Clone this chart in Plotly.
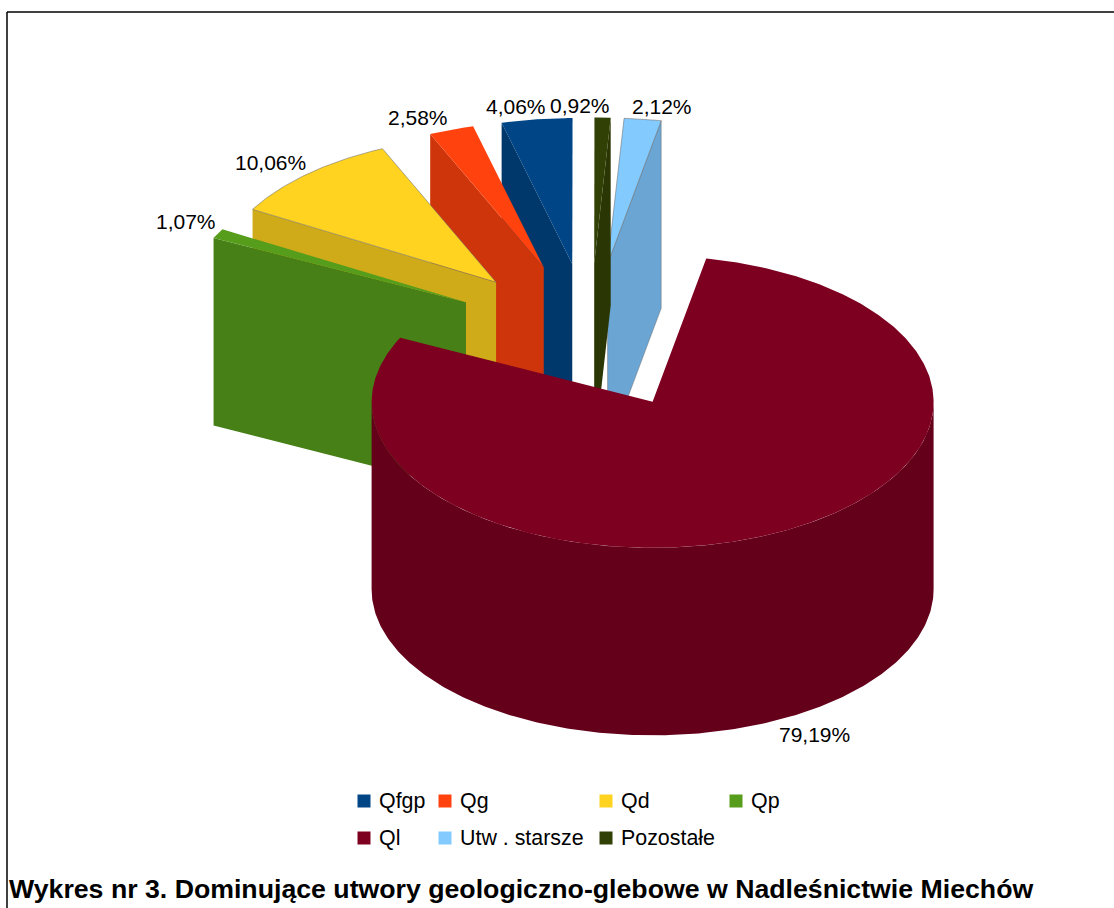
import numpy as np
import plotly.graph_objects as go

categories = ["Qfgp", "Qg", "Qd", "Qp", "Ql", "Utw . starsze", "Pozostałe"]
values = [4.06, 2.58, 10.06, 1.07, 79.19, 2.12, 0.92]
top_colors = ["#004586", "#ff420e", "#ffd320", "#579d1c", "#7e0021", "#83caff", "#314004"]
side_colors = ["#00386c", "#cf350b", "#cfab1a", "#468017", "#65001b", "#6aa5d3", "#2a3604"]
top_edges = [None, None, "rgba(110,110,110,0.7)", None, None, "rgba(110,110,110,0.7)", None]
side_edges = [None, None, None, None, None, "rgba(110,110,110,0.6)", None]

# clockwise order of the slices in the drawing, starting from Ql
clockwise = ["Ql", "Qp", "Qd", "Qg", "Qfgp", "Pozostałe", "Utw . starsze"]
# back-to-front painting order
paint = ["Utw . starsze", "Pozostałe", "Qfgp", "Qg", "Qd", "Qp", "Ql"]

START = 11.0          # degrees clockwise from "up"
CX, CY = 590.0, 336.5 # pie centre, pixels
RX, RY = 281.0, 146.0 # ellipse radii
DEPTH = 187.5
EXPLODE = 0.5

label_pos = {"Qp": (186, 221), "Qd": (270, 162), "Qg": (418, 117), "Qfgp": (516, 106),
             "Pozostałe": (580, 105), "Utw . starsze": (662, 106), "Ql": (814, 734)}
legend_pos = {"Qfgp": (364, 801), "Qg": (445, 801), "Qd": (606, 801), "Qp": (736, 801),
              "Ql": (364, 838), "Utw . starsze": (445, 838), "Pozostałe": (606, 838)}
FONT = "Liberation Sans"

idx = {c: i for i, c in enumerate(categories)}
spans = {}
a = START
for c in clockwise:
    b = a + values[idx[c]] * 3.6
    spans[c] = (a, b)
    a = b


def pt(deg, ox=0.0, oy=0.0, r=1.0):
    t = np.radians(deg)
    return ox + r * RX * np.sin(t), oy - r * RY * np.cos(t)


fig = go.Figure()


def poly(xs, ys, color, name, edge=None):
    fig.add_trace(go.Scatter(
        x=list(xs), y=list(ys), mode="lines", fill="toself", fillcolor=color,
        line=dict(width=0.8 if edge else 0, color=edge or color),
        name=name, showlegend=False, hoverinfo="skip"))


for c in paint:
    i = idx[c]
    a, b = spans[c]
    mid = (a + b) / 2
    ax, ay = pt(mid, CX, CY, EXPLODE)
    ts = np.linspace(a, b, max(6, int((b - a) * 2)))
    ox, oy = pt(ts, ax, ay)
    if c == "Ql":
        # outer wall, front half of the rim
        w = np.linspace(90, 270, 240)
        wx, wy = pt(w, ax, ay)
        poly(np.r_[wx, wx[::-1], wx[0]], np.r_[wy, wy[::-1] + DEPTH, wy[0]],
             side_colors[i], c + " wall")
    else:
        # the cut face turned towards the viewer
        face = b if mid >= 0 and mid % 360 < 90 else a
        fx, fy = pt(face, ax, ay)
        poly([ax, fx, fx, ax, ax], [ay, fy, fy + DEPTH, ay + DEPTH, ay],
             side_colors[i], c + " side", side_edges[i])
    poly(np.r_[ax, ox, ax], np.r_[ay, oy, ay], top_colors[i], c, top_edges[i])

annotations = []


def text(x, y, s, size, anchor="center", bold=False):
    annotations.append(dict(
        x=x, y=y, xref="x", yref="y", text=f"<b>{s}</b>" if bold else s, showarrow=False,
        xanchor=anchor, yanchor="middle", xshift=0, yshift=0,
        font=dict(family=FONT, size=size, color="#000000")))


for c, v in zip(categories, values):
    lx, ly = label_pos[c]
    text(lx, ly, f"{v:.2f}".replace(".", ",") + "%", 21)

for c, col in zip(categories, top_colors):
    lx, ly = legend_pos[c]
    fig.add_trace(go.Scatter(x=[lx], y=[ly], mode="markers",
                             marker=dict(symbol="square", size=13, color=col, line=dict(width=0)),
                             name=c, showlegend=False, hoverinfo="skip"))
    text(lx + 13, ly, c, 21.4, anchor="left")

text(7, 889, "Wykres nr 3. Dominujące utwory geologiczno-glebowe w Nadleśnictwie Miechów",
     26.7, anchor="left", bold=True)

fig.update_layout(
    width=1114, height=908, margin=dict(l=0, r=0, t=0, b=0),
    paper_bgcolor="white", plot_bgcolor="white",
    xaxis=dict(range=[0, 1114], visible=False, fixedrange=True),
    yaxis=dict(range=[908, 0], visible=False, fixedrange=True),
    annotations=annotations, showlegend=False,
    shapes=[
        dict(type="line", xref="x", yref="y", x0=7, x1=7, y0=12, y1=908, line=dict(color="black", width=1.5)),
        dict(type="line", xref="x", yref="y", x0=7, x1=1114, y0=12, y1=12, line=dict(color="black", width=1.5)),
    ],
)
fig.write_html("out.html", config={"displayModeBar": False},
               post_script="document.body.style.margin='0';document.body.style.overflow='hidden';")
